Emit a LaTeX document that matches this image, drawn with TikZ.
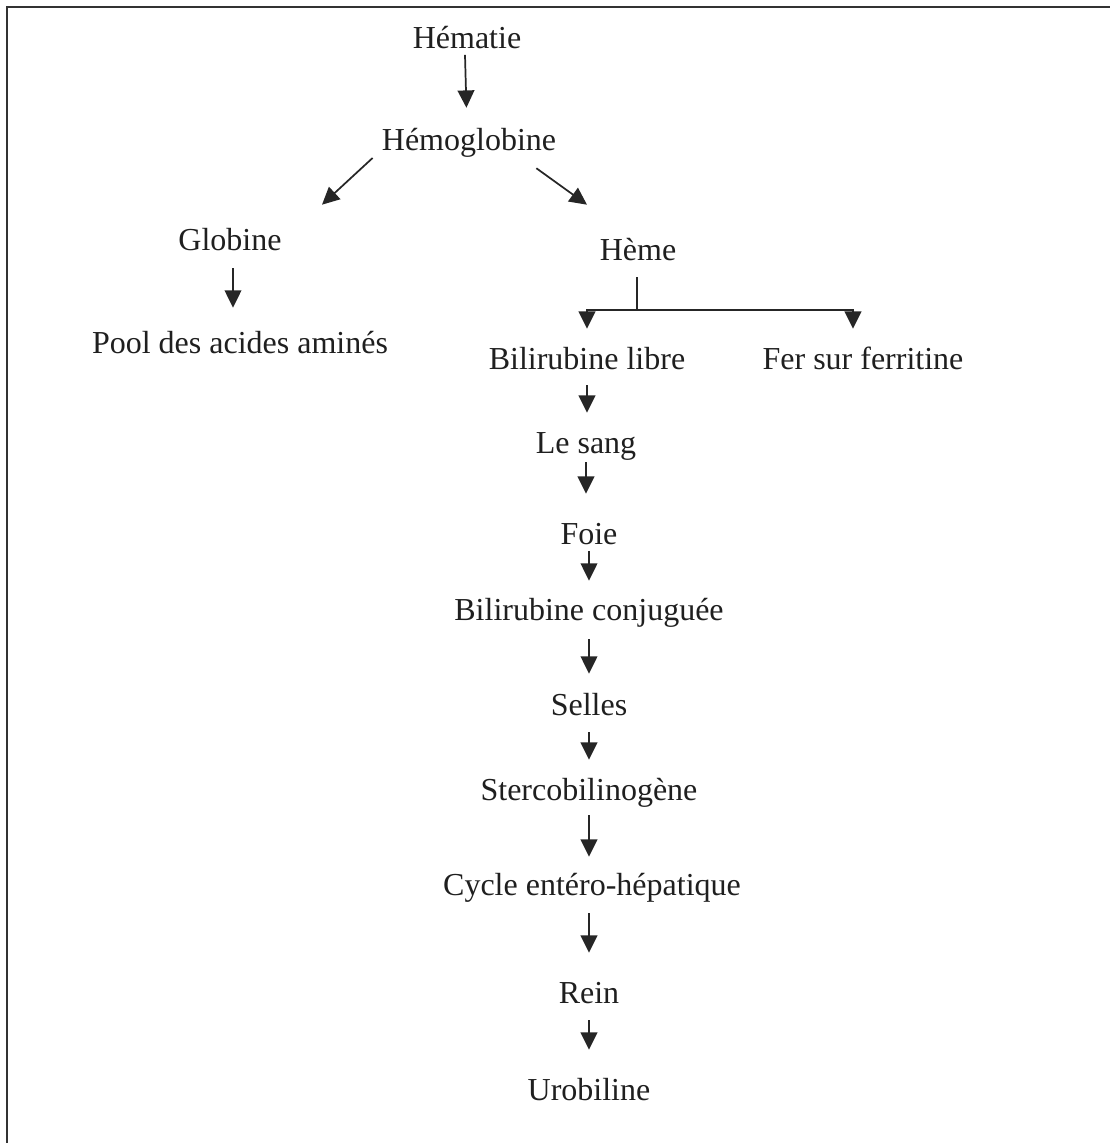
\documentclass[tikz,border=0pt]{standalone}
\usepackage{fontspec}
\setmainfont{Liberation Serif}
\usetikzlibrary{arrows.meta}
\begin{document}
\begin{tikzpicture}[x=0.75pt,y=-0.75pt,
  lbl/.style={inner sep=0pt,anchor=base,text height=16pt,text depth=5pt,
    font=\fontsize{24pt}{28pt}\selectfont,text=black!88},
  arr/.style={-{Triangle[length=13pt,width=12.5pt]},line width=1.3pt,draw=black!85},
  ln/.style={line width=1.3pt,draw=black!85},
  frame/.style={line width=1.6pt,draw=black!80}]
\useasboundingbox (0,0) rectangle (1110,1143);
\draw[frame] (7,1143) -- (7,7) -- (1110,7);

\node[lbl] (hematie) at (467,48) {Hématie};
\node[lbl] (hemo) at (469,150) {Hémoglobine};
\node[lbl] (glob) at (230,250) {Globine};
\node[lbl] (pool) at (240,353) {Pool des acides aminés};
\node[lbl] (heme) at (638,260) {Hème};
\node[lbl] (bl) at (587,369) {Bilirubine libre};
\node[lbl] (fer) at (863,369) {Fer sur ferritine};
\node[lbl] (sang) at (586,453) {Le sang};
\node[lbl] (foie) at (589,544) {Foie};
\node[lbl] (bc) at (589,620) {Bilirubine conjuguée};
\node[lbl] (selles) at (589,715) {Selles};
\node[lbl] (sterco) at (589,800) {Stercobilinogène};
\node[lbl] (cycle) at (592,895) {Cycle entéro-hépatique};
\node[lbl] (rein) at (589,1003) {Rein};
\node[lbl] (uro) at (589,1100) {Urobiline};

% Hematie -> Hemoglobine
\draw[arr,shorten >=15.5pt] ([xshift=-1.5pt]hematie.south) -- ([xshift=-1.5pt]hemo.north);
% diagonal branches
\draw[arr] ([shift={(-9,1)}]hemo.south west) -- ([shift={(92,-23.7)}]glob.north);
\draw[arr] ([shift={(-20,11.3)}]hemo.south east) -- ([shift={(-51,-33.7)}]heme.north);
% Globine -> Pool
\draw[arr,shorten <=8.5pt,shorten >=17.8pt] ([xshift=2.25pt]glob.south) -- ([xshift=2.25pt]glob.south |- pool.north);
% Heme split
\coordinate (split) at ([yshift=-32.3pt]heme.south);
\draw[ln,shorten <=7.7pt] ([xshift=-0.75pt]heme.south) -- ([xshift=-0.75pt]split);
\draw[arr,shorten >=14pt] ([xshift=-0.75pt]split) -| (bl.north);
\draw[arr,shorten >=14pt] ([xshift=-0.75pt]split) -| ([xshift=-7.5pt]fer.north);
% main chain
\draw[arr,shorten <=7pt,shorten >=14pt] (bl.south) -- (bl.south |- sang.north);
\draw[arr,shorten <=1.7pt,shorten >=21.5pt] (sang.south) -- (sang.south |- foie.north);
\draw[arr,shorten >=13.3pt] (foie.south) -- (bc.north);
\draw[arr,shorten <=9.2pt,shorten >=14.8pt] (bc.south) -- (selles.north);
\draw[arr,shorten <=7.7pt,shorten >=14pt] (selles.south) -- (sterco.north);
\draw[arr,shorten <=6.2pt,shorten >=12.5pt] (sterco.south) -- (sterco.south |- cycle.north);
\draw[arr,shorten <=8.5pt,shorten >=21.5pt] (cycle.south -| rein.south) -- (rein.north);
\draw[arr,shorten <=7.7pt,shorten >=21.5pt] (rein.south) -- (uro.north);
\end{tikzpicture}
\end{document}
